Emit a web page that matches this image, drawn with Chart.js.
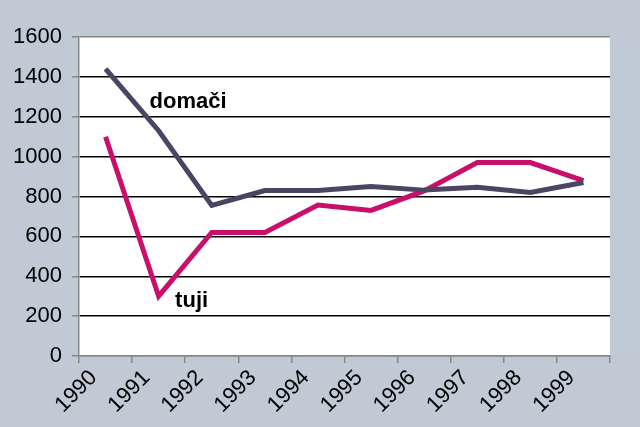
<!DOCTYPE html>
<html>
<head>
<meta charset="utf-8">
<script src="https://cdn.jsdelivr.net/npm/chart.js@4"></script>
<style>
  html, body { margin: 0; padding: 0; background: #bfcad4; }
  #wrap { width: 640px; height: 427px; }
</style>
</head>
<body>
<div id="wrap"><canvas id="myChart" width="640" height="427"></canvas></div>
<script>
const years = ['1990', '1991', '1992', '1993', '1994', '1995', '1996', '1997', '1998', '1999'];
const domaci = [1440, 1130, 755, 830, 830, 850, 832, 846, 820, 870];
const tuji = [1100, 300, 620, 620, 757, 730, 828, 970, 970, 880];
const yTicks = [0, 200, 400, 600, 800, 1000, 1200, 1400, 1600];

// text labels next to the lines: [text, category index, value]
const lineLabels = [
    ['domači', 0.83, 1245],
    ['tuji', 1.31, 245]
];

const plotBg = {
    id: 'plotBg',
    beforeDraw(chart) {
        const a = chart.chartArea;
        const c = chart.ctx;
        c.save();
        c.fillStyle = '#ffffff';
        c.fillRect(a.left, a.top, a.right - a.left, a.bottom - a.top);
        c.restore();
    }
};

const textLabels = {
    id: 'textLabels',
    afterDatasetsDraw(chart) {
        const c = chart.ctx;
        const xs = chart.scales.x;
        const ys = chart.scales.y;
        const step = xs.getPixelForValue(1) - xs.getPixelForValue(0);
        c.save();
        c.font = 'bold 22px "Liberation Sans", Arial, sans-serif';
        c.fillStyle = '#000';
        c.textBaseline = 'alphabetic';
        lineLabels.forEach(l => {
            const x = xs.getPixelForValue(0) + l[1] * step;
            c.fillText(l[0], x, ys.getPixelForValue(l[2]));
        });
        c.restore();
    }
};

const ctx = document.getElementById('myChart').getContext('2d');
const myChart = new Chart(ctx, {
    type: 'line',
    data: {
        labels: years,
        datasets: [{
            label: 'domači',
            data: domaci,
            borderColor: '#4b4563',
            borderWidth: 5,
            pointRadius: 0,
            tension: 0
        }, {
            label: 'tuji',
            data: tuji,
            borderColor: '#c8106a',
            borderWidth: 5,
            pointRadius: 0,
            tension: 0
        }]
    },
    options: {
        responsive: false,
        animation: false,
        layout: { padding: { left: 0, top: 37, right: 30, bottom: 0 } },
        plugins: { legend: { display: false }, tooltip: { enabled: false } },
        scales: {
            x: {
                offset: true,
                grid: {
                    offset: true,
                    drawTicks: true,
                    tickLength: 7,
                    lineWidth: 1.5,
                    color: (c) => c.index === years.length ? '#888888' : 'rgba(0,0,0,0)',
                    tickColor: '#888888'
                },
                border: { color: '#888888', width: 1.5 },
                ticks: {
                    minRotation: 45,
                    maxRotation: 45,
                    autoSkip: false,
                    labelOffset: -12,
                    padding: 2,
                    color: '#000',
                    font: { family: '"Liberation Sans", Arial, sans-serif', size: 22 }
                },
                afterFit: (s) => { s.height = 71; }
            },
            y: {
                min: 0,
                max: 1600,
                afterBuildTicks: (s) => { s.ticks = yTicks.map(v => ({ value: v })); },
                grid: {
                    lineWidth: 1.5,
                    tickLength: 7,
                    color: (c) => (c.tick && (c.tick.value === 0 || c.tick.value === 1600)) ? '#888888' : '#000000',
                    tickColor: '#888888'
                },
                border: { color: '#888888', width: 1.5 },
                ticks: {
                    padding: 10,
                    color: '#000',
                    font: { family: '"Liberation Sans", Arial, sans-serif', size: 22 },
                    callback: (v) => String(v)
                },
                afterFit: (s) => { s.width = 79; }
            }
        }
    },
    plugins: [plotBg, textLabels]
});
</script>
</body>
</html>
